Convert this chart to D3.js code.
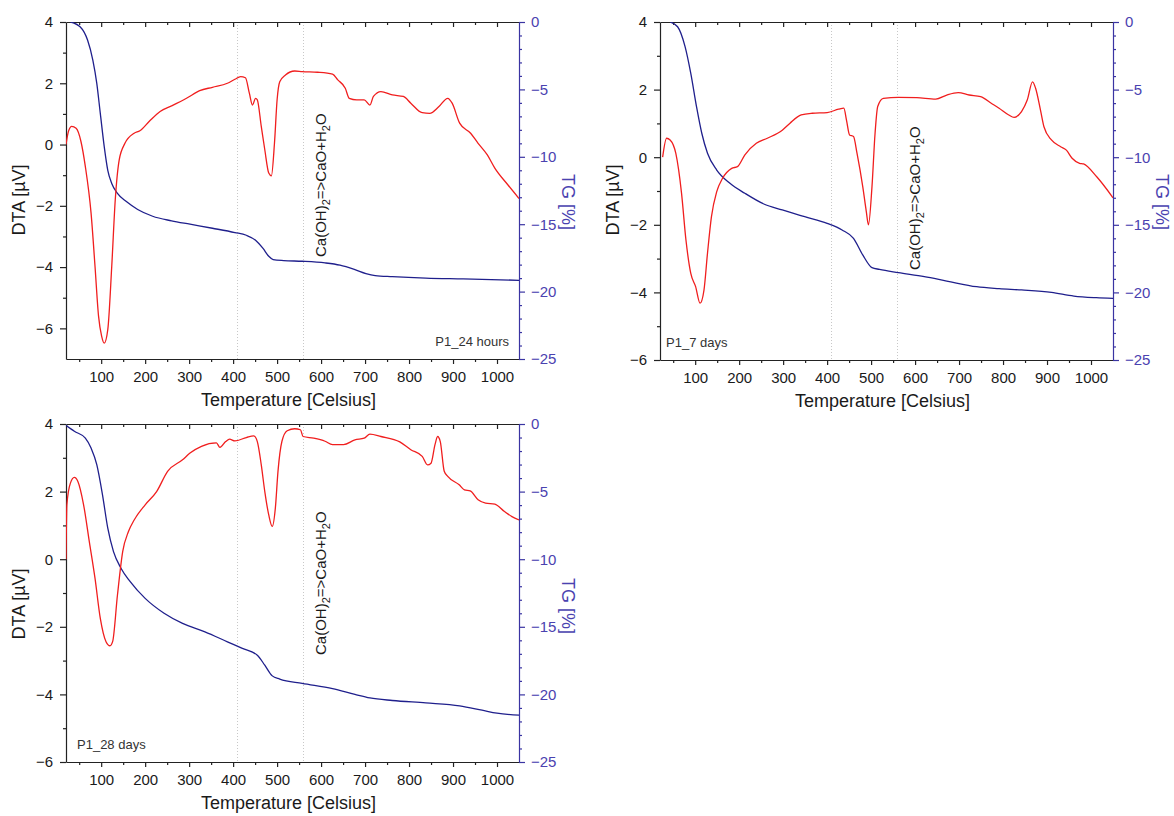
<!DOCTYPE html>
<html>
<head>
<meta charset="utf-8">
<script src="https://cdn.jsdelivr.net/npm/d3@7"></script>
<style>
  body { margin: 0; background: #fff; }
  svg { display: block; font-family: "Liberation Sans", Arial, sans-serif; }
</style>
</head>
<body>
<svg id="chart" width="1174" height="816"></svg>
<script>
// temperature axis ticks
var tempMajor = [100, 200, 300, 400, 500, 600, 700, 800, 900, 1000];
var tempMinor = [50, 150, 250, 350, 450, 550, 650, 750, 850, 950];
var tgMajor = [0, -5, -10, -15, -20, -25];
var guideTemps = [410, 560];

// P1_24 hours  [temperature, value]
var dta24h = [[20,0],[26,0.45],[33,0.59],[43,0.53],[54,0.1],[64,-0.72],[77,-2.24],[86,-3.98],[94,-5.6],[101,-6.25],[107,-6.48],
  [115,-6.04],[124,-3.98],[132,-1.8],[141,-0.5],[154,0.04],[175,0.37],[188,0.45],[209,0.75],[234,1.08],[260,1.26],[294,1.51],
  [324,1.76],[353,1.87],[387,2.0],[404,2.13],[417,2.22],[428,2.18],[437,1.67],[444,1.29],[451,1.51],[455,1.46],[464,0.59],
  [472,-0.17],[481,-0.93],[487,-1.02],[494,0.04],[500,1.46],[506,2.05],[519,2.27],[540,2.4],[557,2.38],[592,2.36],[626,2.3],
  [638,2.11],[655,1.84],[664,1.51],[681,1.46],[698,1.46],[711,1.29],[719,1.57],[736,1.73],[762,1.62],[787,1.57],[804,1.35],
  [830,1.04],[847,1.02],[868,1.24],[888,1.51],[898,1.35],[915,0.7],[940,0.37],[957,0.04],[978,-0.34],[995,-0.77],[1025,-1.32],[1050,-1.76]];
var tg24h = [[30,0],[52,-0.35],[69,-1.34],[81,-2.82],[90,-4.55],[98,-6.78],[107,-9.26],[115,-11.0],[124,-11.98],[137,-12.72],
  [158,-13.34],[183,-13.91],[217,-14.41],[260,-14.75],[302,-15.0],[353,-15.3],[404,-15.62],[430,-15.82],[451,-16.19],[468,-16.8],
  [481,-17.38],[491,-17.62],[515,-17.7],[557,-17.75],[609,-17.87],[643,-18.04],[677,-18.37],[702,-18.66],[723,-18.81],
  [762,-18.89],[838,-19.0],[923,-19.06],[1050,-19.16]];

// P1_7 days
var dta7d = [[26,0],[35,0.56],[43,0.51],[56,0.11],[69,-1.07],[79,-2.45],[90,-3.44],[101,-3.83],[111,-4.32],[120,-3.93],[128,-2.84],
  [137,-1.76],[149,-1.02],[162,-0.63],[183,-0.33],[196,-0.28],[213,0.07],[239,0.41],[264,0.56],[298,0.8],[315,1.0],[341,1.25],
  [366,1.3],[400,1.32],[426,1.42],[438,1.45],[444,1.1],[451,0.66],[460,0.61],[468,0.11],[481,-0.87],[489,-1.6],[494,-2.0],
  [502,-0.87],[509,0.71],[515,1.5],[528,1.74],[562,1.77],[604,1.76],[647,1.72],[672,1.84],[698,1.91],[723,1.84],[749,1.79],
  [774,1.59],[791,1.45],[813,1.25],[825,1.18],[842,1.35],[855,1.69],[867,2.23],[874,2.04],[885,1.4],[893,0.9],[910,0.51],
  [931,0.31],[944,0.21],[957,-0.03],[974,-0.18],[983,-0.2],[1013,-0.58],[1050,-1.2]];
var tg7d = [[43,0],[60,-0.35],[77,-1.82],[90,-3.8],[103,-6.26],[115,-8.23],[128,-9.71],[149,-10.95],[179,-11.93],[213,-12.67],
  [256,-13.46],[298,-13.9],[349,-14.4],[400,-14.89],[434,-15.38],[460,-16.0],[481,-17.23],[502,-18.17],[519,-18.3],[562,-18.54],
  [621,-18.84],[672,-19.16],[740,-19.58],[791,-19.72],[842,-19.82],[910,-20.0],[961,-20.27],[1012,-20.39],[1050,-20.44]];

// P1_28 days
var dta28d = [[20,0],[22,1.61],[30,2.25],[39,2.42],[47,2.3],[60,1.61],[73,0.52],[86,-0.57],[98,-1.75],[111,-2.44],[120,-2.56],
  [126,-2.44],[137,-1.06],[149,0.23],[162,0.82],[175,1.16],[200,1.61],[226,2.0],[251,2.6],[285,2.94],[302,3.14],[328,3.34],
  [362,3.44],[370,3.31],[383,3.48],[392,3.55],[404,3.5],[430,3.6],[447,3.65],[455,3.48],[464,2.79],[472,2.0],[481,1.31],
  [489,0.97],[496,1.51],[502,2.6],[511,3.49],[523,3.8],[540,3.86],[553,3.83],[559,3.63],[583,3.58],[609,3.49],[626,3.39],
  [651,3.39],[677,3.53],[698,3.58],[711,3.7],[736,3.63],[779,3.47],[804,3.24],[830,3.04],[842,2.79],[850,2.84],[859,3.39],
  [865,3.63],[871,3.48],[880,2.6],[888,2.45],[914,2.2],[926,2.05],[939,2.02],[957,1.76],[974,1.66],[995,1.63],[1017,1.41],
  [1034,1.26],[1050,1.16]];
var tg28d = [[20,-0.1],[39,-0.54],[64,-1.04],[77,-1.78],[90,-3.01],[103,-5.24],[115,-7.71],[128,-9.44],[145,-10.67],[166,-11.66],
  [200,-12.9],[243,-14.0],[285,-14.75],[336,-15.37],[387,-16.11],[421,-16.6],[455,-17.1],[472,-17.84],[489,-18.63],[506,-18.87],
  [557,-19.19],[626,-19.57],[677,-20.0],[711,-20.26],[762,-20.45],[838,-20.63],[915,-20.85],[966,-21.17],[1000,-21.39],[1050,-21.54]];

var panels = [
  {x0: 66, x1: 519, y0: 22, y1: 359, dtaDomain: [-7, 4], dta: dta24h, tg: tg24h,
   name: 'P1_24 hours', nameX: 509, nameAnchor: 'end', annoY: 257, titleY: 200},
  {x0: 660, x1: 1113, y0: 22, y1: 360, dtaDomain: [-6, 4], dta: dta7d, tg: tg7d,
   name: 'P1_7 days', nameX: 666, nameAnchor: 'start', annoY: 270, titleY: 200},
  {x0: 66, x1: 519, y0: 424, y1: 762, dtaDomain: [-6, 4], dta: dta28d, tg: tg28d,
   name: 'P1_28 days', nameX: 77, nameAnchor: 'start', annoY: 655, titleY: 604}
];

var red = '#f01e1e', navy = '#1f1f8c', tgAxis = '#3a34a2', tgText = '#4a42b0';
var svg = d3.select('#chart');
var fmt = d3.format('d');

panels.forEach(function (p, i) {
  var x = d3.scaleLinear().domain([20, 1050]).range([p.x0, p.x1]);
  var yD = d3.scaleLinear().domain(p.dtaDomain).range([p.y1, p.y0]);
  var yT = d3.scaleLinear().domain([-25, 0]).range([p.y1, p.y0]);
  var g = svg.append('g');

  var clipId = 'clip' + i;
  svg.append('clipPath').attr('id', clipId).append('rect')
    .attr('x', p.x0).attr('y', p.y0).attr('width', p.x1 - p.x0).attr('height', p.y1 - p.y0);

  // dotted guides
  g.selectAll('line.guide').data(guideTemps).enter().append('line')
    .attr('x1', function (d) { return x(d); }).attr('x2', function (d) { return x(d); })
    .attr('y1', p.y0).attr('y2', p.y1)
    .attr('stroke', '#c8c8c8').attr('stroke-width', 1).attr('stroke-dasharray', '1,2');

  var dtaMajor = d3.range(p.dtaDomain[0] % 2 === 0 ? p.dtaDomain[0] : p.dtaDomain[0] + 1, 4.01, 2);
  var dtaMinor = d3.range(-5, 4, 2);

  // bottom axis
  var bottom = g.append('g').attr('transform', 'translate(0,' + p.y1 + ')');
  bottom.call(d3.axisBottom(x).tickValues(tempMajor).tickFormat(fmt).tickSize(5).tickSizeOuter(0).tickPadding(7));
  bottom.append('g').call(d3.axisBottom(x).tickValues(tempMinor).tickSize(3).tickSizeOuter(0).tickFormat(''))
    .select('.domain').remove();

  // top axis, ticks inward
  var top = g.append('g').attr('transform', 'translate(0,' + p.y0 + ')');
  top.call(d3.axisBottom(x).tickValues(tempMajor).tickSize(5).tickSizeOuter(0).tickFormat(''));
  top.append('g').call(d3.axisBottom(x).tickValues(tempMinor).tickSize(3).tickSizeOuter(0).tickFormat(''))
    .select('.domain').remove();

  // left DTA axis
  var left = g.append('g').attr('transform', 'translate(' + p.x0 + ',0)');
  left.call(d3.axisLeft(yD).tickValues(dtaMajor).tickFormat(fmt).tickSize(6).tickSizeOuter(0).tickPadding(7));
  left.append('g').call(d3.axisLeft(yD).tickValues(dtaMinor).tickSize(3).tickSizeOuter(0).tickFormat(''))
    .select('.domain').remove();

  // right TG axis
  var tgMinor = d3.range(-24, 0, 1).filter(function (v) { return v % 5 !== 0; });
  var right = g.append('g').attr('transform', 'translate(' + p.x1 + ',0)');
  right.call(d3.axisRight(yT).tickValues(tgMajor).tickFormat(fmt).tickSize(6).tickSizeOuter(0).tickPadding(6));
  right.append('g').call(d3.axisRight(yT).tickValues(tgMinor).tickSize(3).tickSizeOuter(0).tickFormat(''))
    .select('.domain').remove();

  [bottom, top, left].forEach(function (a) {
    a.selectAll('path, line').attr('stroke', '#222').attr('stroke-width', 1.2);
    a.selectAll('text').attr('font-size', 15).attr('fill', '#1a1a1a').attr('font-family', null);
  });
  right.selectAll('path, line').attr('stroke', tgAxis).attr('stroke-width', 1.2);
  right.selectAll('text').attr('font-size', 15).attr('fill', tgText).attr('font-family', null);

  // curves
  var lineD = d3.line().x(function (d) { return x(d[0]); }).y(function (d) { return yD(d[1]); }).curve(d3.curveMonotoneX);
  var lineT = d3.line().x(function (d) { return x(d[0]); }).y(function (d) { return yT(d[1]); }).curve(d3.curveMonotoneX);
  var curves = g.append('g').attr('clip-path', 'url(#' + clipId + ')');
  curves.append('path').datum(p.tg).attr('d', lineT).attr('fill', 'none').attr('stroke', navy).attr('stroke-width', 1.3);
  curves.append('path').datum(p.dta).attr('d', lineD).attr('fill', 'none').attr('stroke', red).attr('stroke-width', 1.3);

  // annotation
  var anno = g.append('text')
    .attr('transform', 'translate(' + (x(560) + 23) + ',' + p.annoY + ') rotate(-90)')
    .attr('font-size', 15).attr('fill', '#1a1a1a');
  anno.append('tspan').text('Ca(OH)');
  anno.append('tspan').attr('font-size', 11).attr('dy', 4).text('2');
  anno.append('tspan').attr('dy', -4).text('=>CaO+H');
  anno.append('tspan').attr('font-size', 11).attr('dy', 4).text('2');
  anno.append('tspan').attr('dy', -4).text('O');

  // sample name
  g.append('text').attr('x', p.nameX).attr('y', p.y1 - 13)
    .attr('text-anchor', p.nameAnchor).attr('font-size', 13).attr('fill', '#333').text(p.name);

  // axis titles
  g.append('text').attr('transform', 'translate(' + (p.x0 - 41) + ',' + p.titleY + ') rotate(-90)')
    .attr('text-anchor', 'middle').attr('font-size', 18).attr('fill', '#1a1a1a').text('DTA [µV]');
  g.append('text').attr('transform', 'translate(' + (p.x1 + 43) + ',' + (p.titleY + 2) + ') rotate(90)')
    .attr('text-anchor', 'middle').attr('font-size', 18).attr('fill', tgText).text('TG [%]');
  g.append('text').attr('x', (p.x0 + p.x1) / 2 - 4).attr('y', p.y1 + 47)
    .attr('text-anchor', 'middle').attr('font-size', 18).attr('fill', '#1a1a1a').text('Temperature [Celsius]');
});
</script>
</body>
</html>
